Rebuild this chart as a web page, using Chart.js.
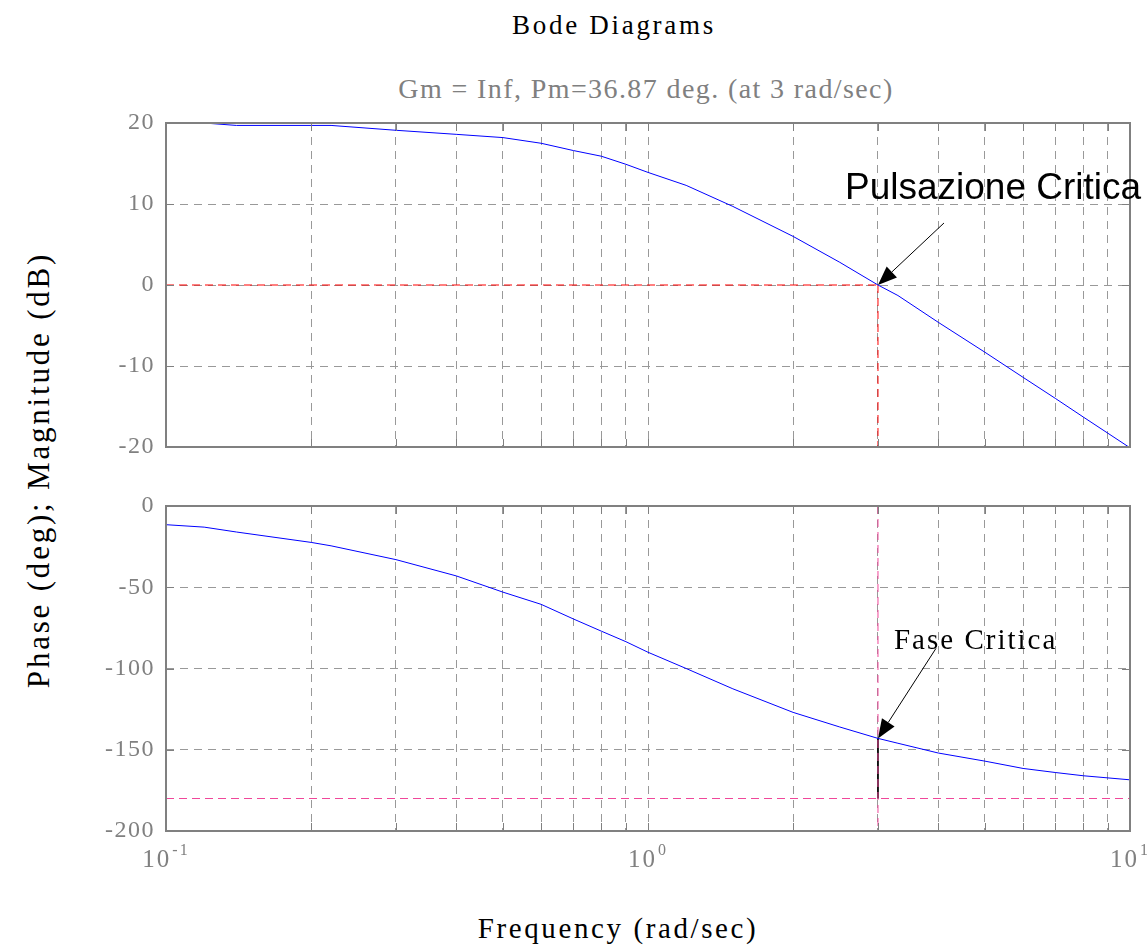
<!DOCTYPE html>
<html>
<head>
<meta charset="utf-8">
<script src="https://cdn.jsdelivr.net/npm/chart.js@4.4.1/dist/chart.umd.min.js"></script>
<style>
  body { margin: 0; background: #fff; width: 1147px; height: 945px; position: relative; overflow: hidden; }
  canvas { position: absolute; left: 0; }
  .txt { position: absolute; white-space: nowrap; font-family: "Liberation Serif", serif; line-height: 1; }
</style>
</head>
<body>
<div class="txt" id="title" style="left:614px; top:12px; font-size:27px; letter-spacing:2.7px; color:#000; transform:translateX(-50%)">Bode Diagrams</div>
<div class="txt" id="subtitle" style="left:646px; top:75px; font-size:28px; letter-spacing:1.4px; color:#808080; transform:translateX(-50%)">Gm = Inf, Pm=36.87 deg. (at 3 rad/sec)</div>
<div class="txt" id="xtitle" style="left:618px; top:914px; font-size:29px; letter-spacing:2.6px; color:#000; transform:translateX(-50%)">Frequency (rad/sec)</div>
<div class="txt" id="ytitle" style="left:38px; top:470px; font-size:31px; letter-spacing:2.8px; color:#000; transform:translate(-50%,-50%) rotate(-90deg)">Phase (deg); Magnitude (dB)</div>

<canvas id="magChart" width="1147" height="384" style="top:93px"></canvas>
<canvas id="phaseChart" width="1147" height="475" style="top:470px"></canvas>

<script>
// values
const freqs = [0.1, 0.12, 0.14, 0.2, 0.22, 0.3, 0.4, 0.5, 0.6, 0.7, 0.8, 0.9, 1, 1.2, 1.5, 2, 2.5, 3, 3.3, 4, 5, 6, 7, 8, 10];
const magnitudeDb = [20, 20, 19.7, 19.7, 19.7, 19.1, 18.6, 18.2, 17.5, 16.6, 15.9, 14.9, 13.9, 12.3, 9.7, 6.0, 2.8, 0, -1.3, -4.6, -8.3, -11.4, -14.0, -16.3, -20.1];
const phaseDeg = [-11.5, -13, -16, -22.4, -24.5, -33, -43, -53, -60.5, -69.5, -77, -83.5, -90, -100, -112.5, -127, -136, -143, -146, -152, -157, -161.5, -164, -166, -168.5];

const critFreq = 3;
const critPhase = -143;
const crossoverDb = 0;
const phaseLimit = -180;

const freqGrid = [0.1, 0.2, 0.3, 0.4, 0.5, 0.6, 0.7, 0.8, 0.9, 1, 2, 3, 4, 5, 6, 7, 8, 9, 10];
const decadeExps = [-1, 0, 1];
const magRange = [-20, 20, 10];
const phaseRange = [-200, 0, 50];

const GRID = '#999999';
const FRAME = '#808080';
const RED = '#ff0000';
const PINK = '#f0479a';

function arrow(ctx, x0, y0, x1, y1, len, half) {
  const a = Math.atan2(y1 - y0, x1 - x0);
  const bx = x1 - len * Math.cos(a), by = y1 - len * Math.sin(a);
  ctx.beginPath(); ctx.moveTo(x0, y0); ctx.lineTo(bx, by); ctx.stroke();
  ctx.beginPath();
  ctx.moveTo(x1, y1);
  ctx.lineTo(bx + half * Math.sin(a), by - half * Math.cos(a));
  ctx.lineTo(bx - half * Math.sin(a), by + half * Math.cos(a));
  ctx.closePath(); ctx.fill();
}

// frame, inner ticks, annotation and 10^n labels
const bodeDecor = {
  id: 'bodeDecor',
  beforeDraw(chart) { chart.ctx.letterSpacing = '1.5px'; },
  afterDraw(chart, args, opts) {
    const { ctx, chartArea: a, scales: { x, y } } = chart;
    ctx.save();
    ctx.letterSpacing = '0px';
    ctx.strokeStyle = FRAME;
    ctx.lineWidth = 1;
    ctx.beginPath();
    y.ticks.forEach(t => {
      const py = Math.round(y.getPixelForValue(t.value)) + 0.5;
      ctx.moveTo(a.left, py); ctx.lineTo(a.left + 8, py);
      ctx.moveTo(a.right, py); ctx.lineTo(a.right - 8, py);
    });
    x.ticks.forEach(t => {
      const px = Math.round(x.getPixelForValue(t.value)) + 0.5;
      ctx.moveTo(px, a.top); ctx.lineTo(px, a.top + 8);
      ctx.moveTo(px, a.bottom); ctx.lineTo(px, a.bottom - 8);
    });
    ctx.stroke();
    ctx.lineWidth = 2;
    ctx.strokeRect(a.left, a.top, a.right - a.left, a.bottom - a.top);

    if (opts.note) {
      const n = opts.note;
      const tx = x.getPixelForValue(n.x), ty = y.getPixelForValue(n.y);
      ctx.fillStyle = '#000';
      ctx.strokeStyle = '#000';
      ctx.lineWidth = 1;
      arrow(ctx, tx + n.from[0], ty + n.from[1], tx, ty, 19, 7.5);
      ctx.font = n.font;
      ctx.letterSpacing = n.spacing;
      ctx.textAlign = 'left';
      ctx.textBaseline = 'alphabetic';
      ctx.fillText(n.text, tx + n.at[0], ty + n.at[1]);
    }

    if (opts.decades) {
      ctx.fillStyle = FRAME;
      ctx.textBaseline = 'alphabetic';
      ctx.textAlign = 'left';
      decadeExps.forEach(e => {
        const px = x.getPixelForValue(Math.pow(10, e));
        ctx.font = '25px "Liberation Serif"';
        const base = '10', sup = String(e);
        const wb = ctx.measureText(base).width;
        ctx.font = '16px "Liberation Serif"';
        const ws = ctx.measureText(sup).width;
        const left = px - (wb + 1 + ws) / 2;
        const by = a.bottom + 36;
        ctx.font = '25px "Liberation Serif"';
        ctx.fillText(base, left, by);
        ctx.font = '16px "Liberation Serif"';
        ctx.fillText(sup, left + wb + 1, by - 12);
      });
    }
    ctx.restore();
  }
};

function pts(xs, ys) { return xs.map((v, i) => ({ x: v, y: ys[i] })); }

function bodeOptions(range, pad, decor) {
  return {
    responsive: false,
    animation: false,
    events: [],
    layout: { padding: pad },
    plugins: { legend: { display: false }, tooltip: { enabled: false }, bodeDecor: decor },
    scales: {
      x: {
        type: 'logarithmic',
        min: freqGrid[0],
        max: freqGrid[freqGrid.length - 1],
        afterBuildTicks: s => { s.ticks = freqGrid.map(v => ({ value: v })); },
        afterFit: s => { s.height = 0; },
        ticks: { display: false },
        border: { display: false, dash: [8, 6] },
        grid: { color: GRID, lineWidth: 1, drawTicks: false }
      },
      y: {
        min: range[0],
        max: range[1],
        afterFit: s => { s.width = 166; },
        ticks: { stepSize: range[2], color: FRAME, padding: 11, font: { family: 'Liberation Serif', size: 24 } },
        border: { display: false, dash: [8, 6] },
        grid: { color: GRID, lineWidth: 1, drawTicks: false }
      }
    }
  };
}

const magOpts = bodeOptions(magRange, { top: 30, bottom: 30, right: 17, left: 0 }, {
  note: { x: critFreq, y: crossoverDb, text: 'Pulsazione Critica', font: '37px "Liberation Sans"', spacing: '0px', from: [66, -62], at: [-33, -86] }
});
const phaseOpts = bodeOptions(phaseRange, { top: 36, bottom: 114, right: 17, left: 0 }, {
  note: { x: critFreq, y: critPhase, text: 'Fase Critica', font: '29px "Liberation Serif"', spacing: '2px', from: [58, -90], at: [16, -89] },
  decades: true
});

new Chart(document.getElementById('magChart'), {
  type: 'line',
  data: {
    datasets: [
      { data: pts(freqs, magnitudeDb), borderColor: '#0000ff', borderWidth: 1, pointRadius: 0, tension: 0 },
      { data: pts([freqs[0], critFreq], [crossoverDb, crossoverDb]), borderColor: RED, borderWidth: 1, borderDash: [8, 5], pointRadius: 0 },
      { data: pts([critFreq, critFreq], [crossoverDb, magRange[0]]), borderColor: RED, borderWidth: 1, borderDash: [8, 5], pointRadius: 0 }
    ]
  },
  options: magOpts,
  plugins: [bodeDecor]
});

new Chart(document.getElementById('phaseChart'), {
  type: 'line',
  data: {
    datasets: [
      { data: pts(freqs, phaseDeg), borderColor: '#0000ff', borderWidth: 1, pointRadius: 0, tension: 0 },
      { data: pts([freqs[0], freqs[freqs.length - 1]], [phaseLimit, phaseLimit]), borderColor: PINK, borderWidth: 1, borderDash: [8, 5], pointRadius: 0 },
      { data: pts([critFreq, critFreq], [phaseRange[1], phaseRange[0]]), borderColor: PINK, borderWidth: 1, borderDash: [8, 5], pointRadius: 0 },
      { data: pts([critFreq, critFreq], [critPhase, phaseLimit]), borderColor: '#000', borderWidth: 1, pointRadius: 0 }
    ]
  },
  options: phaseOpts,
  plugins: [bodeDecor]
});
</script>
</body>
</html>
